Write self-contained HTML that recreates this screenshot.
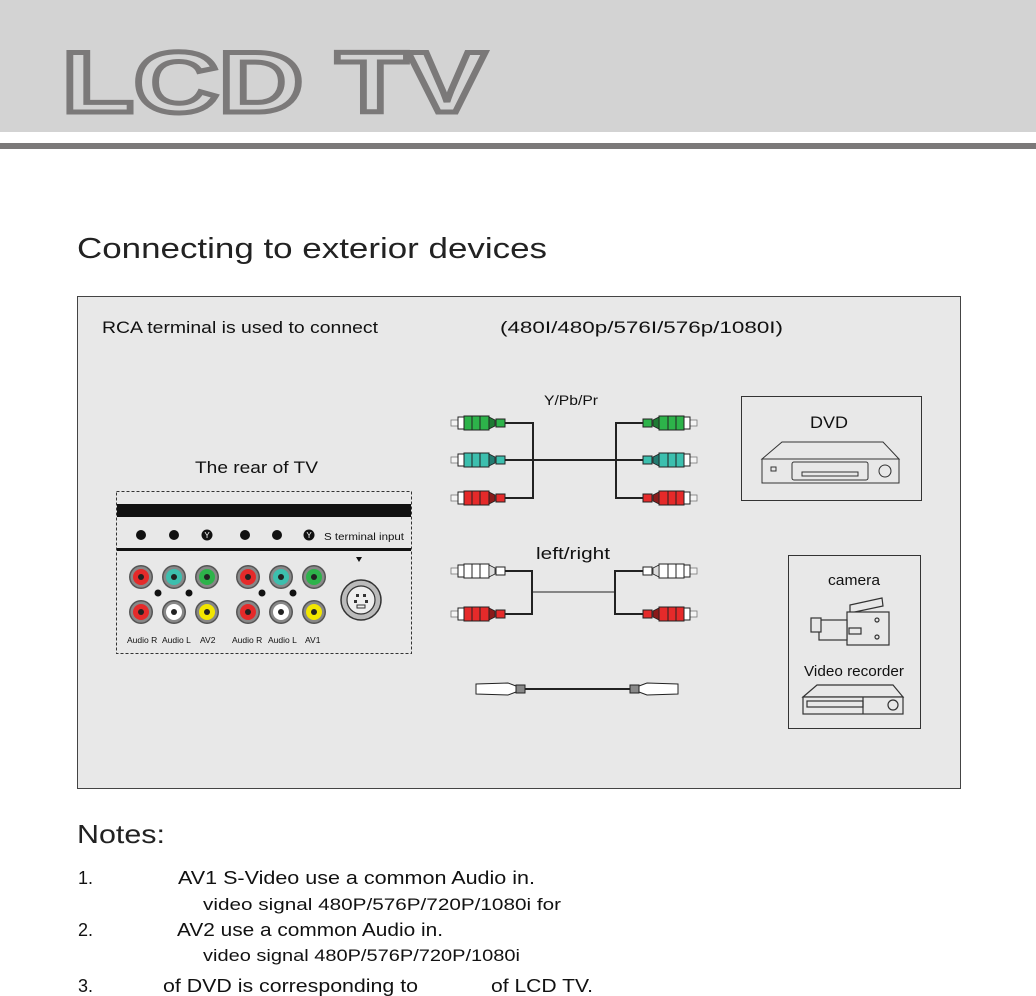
<!DOCTYPE html>
<html><head><meta charset="utf-8"><style>
html,body{margin:0;padding:0;background:#fff;}
svg{display:block;font-family:"Liberation Sans",sans-serif;}
</style></head><body>
<svg width="1036" height="996" viewBox="0 0 1036 996" xmlns="http://www.w3.org/2000/svg">
<defs>
<g id="plugG">
<rect x="0" y="-3" width="8" height="6" fill="#f4f4f4" stroke="#777" stroke-width="0.8"/>
<rect x="7" y="-6" width="6" height="12" fill="#fff" stroke="#222" stroke-width="1"/>
<rect x="13" y="-7" width="25" height="14" fill="#2db34a" stroke="#222" stroke-width="1"/>
<line x1="21" y1="-7" x2="21" y2="7" stroke="#222"/><line x1="29" y1="-7" x2="29" y2="7" stroke="#222"/>
<polygon points="38,-6 44,-3 44,3 38,6" fill="#1e7a33" stroke="#222" stroke-width="0.8"/>
<rect x="45" y="-4" width="9" height="8" fill="#2db34a" stroke="#222" stroke-width="1"/>
</g>
<g id="plugT">
<rect x="0" y="-3" width="8" height="6" fill="#f4f4f4" stroke="#777" stroke-width="0.8"/>
<rect x="7" y="-6" width="6" height="12" fill="#fff" stroke="#222" stroke-width="1"/>
<rect x="13" y="-7" width="25" height="14" fill="#3cbfae" stroke="#222" stroke-width="1"/>
<line x1="21" y1="-7" x2="21" y2="7" stroke="#222"/><line x1="29" y1="-7" x2="29" y2="7" stroke="#222"/>
<polygon points="38,-6 44,-3 44,3 38,6" fill="#227a70" stroke="#222" stroke-width="0.8"/>
<rect x="45" y="-4" width="9" height="8" fill="#3cbfae" stroke="#222" stroke-width="1"/>
</g>
<g id="plugR">
<rect x="0" y="-3" width="8" height="6" fill="#f4f4f4" stroke="#777" stroke-width="0.8"/>
<rect x="7" y="-6" width="6" height="12" fill="#fff" stroke="#222" stroke-width="1"/>
<rect x="13" y="-7" width="25" height="14" fill="#e52a2a" stroke="#222" stroke-width="1"/>
<line x1="21" y1="-7" x2="21" y2="7" stroke="#222"/><line x1="29" y1="-7" x2="29" y2="7" stroke="#222"/>
<polygon points="38,-6 44,-3 44,3 38,6" fill="#8a1a1a" stroke="#222" stroke-width="0.8"/>
<rect x="45" y="-4" width="9" height="8" fill="#e52a2a" stroke="#222" stroke-width="1"/>
</g>
<g id="plugW">
<rect x="0" y="-3" width="8" height="6" fill="#f4f4f4" stroke="#777" stroke-width="0.8"/>
<rect x="7" y="-6" width="6" height="12" fill="#fff" stroke="#222" stroke-width="1"/>
<rect x="13" y="-7" width="25" height="14" fill="#fff" stroke="#222" stroke-width="1"/>
<line x1="21" y1="-7" x2="21" y2="7" stroke="#222"/><line x1="29" y1="-7" x2="29" y2="7" stroke="#222"/>
<polygon points="38,-6 44,-3 44,3 38,6" fill="#ddd" stroke="#222" stroke-width="0.8"/>
<rect x="45" y="-4" width="9" height="8" fill="#fff" stroke="#222" stroke-width="1"/>
</g>
<g id="jack">
<circle r="12" fill="#555"/><circle r="10.5" fill="#888"/>
</g>
</defs>

<!-- header -->
<rect x="0" y="0" width="1036" height="132" fill="#d3d3d3"/>
<rect x="0" y="143" width="1036" height="6" fill="#7b7979"/>
<text x="62" y="112" font-size="86" font-weight="bold" textLength="424" lengthAdjust="spacingAndGlyphs" fill="#d3d3d3" stroke="#7b7979" stroke-width="5" stroke-linejoin="miter">LCD TV</text>

<text x="77" y="258" font-size="29" fill="#222" textLength="470" lengthAdjust="spacingAndGlyphs">Connecting to exterior devices</text>

<!-- panel -->
<rect x="77.5" y="296.5" width="883" height="492" fill="#e8e8e8" stroke="#444" stroke-width="1"/>
<text x="102" y="333" font-size="17" fill="#111" textLength="276" lengthAdjust="spacingAndGlyphs">RCA terminal is used to connect</text>
<text x="500" y="333" font-size="17" fill="#111" textLength="283" lengthAdjust="spacingAndGlyphs">(480I/480p/576I/576p/1080I)</text>
<text x="195" y="473" font-size="17" fill="#111" textLength="123" lengthAdjust="spacingAndGlyphs">The rear of TV</text>

<!-- TV rear -->
<rect x="116.5" y="491.5" width="295" height="162" fill="none" stroke="#333" stroke-dasharray="3,2"/>
<rect x="117" y="504" width="294" height="13" fill="#111"/>
<rect x="117" y="548" width="294" height="3" fill="#111"/>
<g font-size="5" fill="#fff" text-anchor="middle">
<circle cx="141" cy="535" r="5" fill="#111"/><circle cx="174" cy="535" r="5" fill="#111"/><circle cx="207" cy="535" r="5.5" fill="#111"/>
<circle cx="245" cy="535" r="5" fill="#111"/><circle cx="277" cy="535" r="5" fill="#111"/><circle cx="309" cy="535" r="5.5" fill="#111"/>
<text x="207" y="538" font-size="8">Y</text><text x="309" y="538" font-size="8">Y</text>
</g>
<text x="324" y="540" font-size="10" fill="#111" textLength="80" lengthAdjust="spacingAndGlyphs">S  terminal input</text>
<polygon points="356,557 362,557 359,562" fill="#111"/>
<g>
<use href="#jack" x="141" y="577"/><circle cx="141" cy="577" r="8" fill="#e52a2a"/><circle cx="141" cy="577" r="3" fill="#222"/>
<use href="#jack" x="174" y="577"/><circle cx="174" cy="577" r="8" fill="#3cbfae"/><circle cx="174" cy="577" r="3" fill="#222"/>
<use href="#jack" x="207" y="577"/><circle cx="207" cy="577" r="8" fill="#2db34a"/><circle cx="207" cy="577" r="3" fill="#222"/>
<use href="#jack" x="248" y="577"/><circle cx="248" cy="577" r="8" fill="#e52a2a"/><circle cx="248" cy="577" r="3" fill="#222"/>
<use href="#jack" x="281" y="577"/><circle cx="281" cy="577" r="8" fill="#3cbfae"/><circle cx="281" cy="577" r="3" fill="#222"/>
<use href="#jack" x="314" y="577"/><circle cx="314" cy="577" r="8" fill="#2db34a"/><circle cx="314" cy="577" r="3" fill="#222"/>
<use href="#jack" x="141" y="612"/><circle cx="141" cy="612" r="8" fill="#e52a2a"/><circle cx="141" cy="612" r="3" fill="#222"/>
<use href="#jack" x="174" y="612"/><circle cx="174" cy="612" r="8" fill="#fff"/><circle cx="174" cy="612" r="3" fill="#222"/>
<use href="#jack" x="207" y="612"/><circle cx="207" cy="612" r="8" fill="#f2e600"/><circle cx="207" cy="612" r="3" fill="#222"/>
<use href="#jack" x="248" y="612"/><circle cx="248" cy="612" r="8" fill="#e52a2a"/><circle cx="248" cy="612" r="3" fill="#222"/>
<use href="#jack" x="281" y="612"/><circle cx="281" cy="612" r="8" fill="#fff"/><circle cx="281" cy="612" r="3" fill="#222"/>
<use href="#jack" x="314" y="612"/><circle cx="314" cy="612" r="8" fill="#f2e600"/><circle cx="314" cy="612" r="3" fill="#222"/>
<circle cx="158" cy="593" r="3.5" fill="#111"/><circle cx="189" cy="593" r="3.5" fill="#111"/>
<circle cx="262" cy="593" r="3.5" fill="#111"/><circle cx="293" cy="593" r="3.5" fill="#111"/>
</g>
<circle cx="361" cy="600" r="20" fill="#bbb" stroke="#333" stroke-width="1.5"/>
<circle cx="361" cy="600" r="14" fill="#eee" stroke="#333" stroke-width="1.2"/>
<rect x="356" y="594" width="3" height="3" fill="#333"/><rect x="363" y="594" width="3" height="3" fill="#333"/>
<rect x="354" y="600" width="3" height="3" fill="#333"/><rect x="365" y="600" width="3" height="3" fill="#333"/>
<rect x="357" y="605" width="8" height="3" fill="none" stroke="#333"/>
<g font-size="8.5" fill="#111">
<text x="127" y="643">Audio R</text><text x="162" y="643">Audio L</text><text x="200" y="643">AV2</text>
<text x="232" y="643">Audio R</text><text x="268" y="643">Audio L</text><text x="305" y="643">AV1</text>
</g>

<!-- Y/Pb/Pr cable -->
<text x="544" y="405" font-size="14" fill="#111" textLength="54" lengthAdjust="spacingAndGlyphs">Y/Pb/Pr</text>
<use href="#plugG" x="451" y="423"/><use href="#plugT" x="451" y="460"/><use href="#plugR" x="451" y="498"/>
<g transform="translate(697,0) scale(-1,1)">
<use href="#plugG" x="0" y="423"/><use href="#plugT" x="0" y="460"/><use href="#plugR" x="0" y="498"/>
</g>
<g stroke="#222" fill="none" stroke-width="2">
<polyline points="505,423 533,423 533,498 505,498"/>
<line x1="505" y1="460" x2="643" y2="460"/>
<polyline points="643,423 616,423 616,498 643,498"/>
</g>

<!-- left/right -->
<text x="536" y="559" font-size="17" fill="#111" textLength="74" lengthAdjust="spacingAndGlyphs">left/right</text>
<use href="#plugW" x="451" y="571"/><use href="#plugR" x="451" y="614"/>
<g transform="translate(697,0) scale(-1,1)">
<use href="#plugW" x="0" y="571"/><use href="#plugR" x="0" y="614"/>
</g>
<g stroke="#222" fill="none">
<polyline points="505,571 532,571 532,614 505,614" stroke-width="2"/>
<line x1="532" y1="592" x2="615" y2="592" stroke-width="1"/>
<polyline points="643,571 615,571 615,614 643,614" stroke-width="2"/>
</g>

<!-- S-video cable -->
<g stroke="#222" fill="#fff" stroke-width="1">
<path d="M476,684 L508,683 L516,686 L516,692 L508,695 L476,694 Z"/>
<rect x="516" y="685" width="9" height="8" fill="#888"/>
<line x1="525" y1="689" x2="630" y2="689" stroke-width="2"/>
<rect x="630" y="685" width="9" height="8" fill="#888"/>
<path d="M678,684 L647,683 L639,686 L639,692 L647,695 L678,694 Z"/>
</g>

<!-- DVD -->
<rect x="741.5" y="396.5" width="180" height="104" fill="#e8e8e8" stroke="#333"/>
<text x="810" y="428" font-size="17" fill="#111" textLength="38" lengthAdjust="spacingAndGlyphs">DVD</text>
<g stroke="#333" fill="#e8e8e8" stroke-width="1">
<polygon points="762,459 782,442 883,442 899,459"/>
<rect x="762" y="459" width="137" height="24"/>
<rect x="792" y="462" width="76" height="18" rx="2"/>
<rect x="802" y="472" width="56" height="4"/>
<rect x="771" y="467" width="5" height="4"/>
<circle cx="885" cy="471" r="6"/>
</g>

<!-- camera box -->
<rect x="788.5" y="555.5" width="132" height="173" fill="#e8e8e8" stroke="#333"/>
<text x="828" y="585" font-size="15" fill="#111" textLength="52" lengthAdjust="spacingAndGlyphs">camera</text>
<g stroke="#333" fill="#e8e8e8" stroke-width="1.2">
<polygon points="850,605 882,598 883,606 850,613"/>
<rect x="847" y="612" width="42" height="33"/>
<rect x="819" y="620" width="28" height="20"/>
<rect x="811" y="618" width="10" height="14"/>
<rect x="849" y="628" width="12" height="6"/>
<circle cx="877" cy="620" r="2"/><circle cx="877" cy="637" r="2"/>
</g>
<text x="804" y="676" font-size="15" fill="#111" textLength="100" lengthAdjust="spacingAndGlyphs">Video recorder</text>
<g stroke="#333" fill="#e8e8e8" stroke-width="1.2">
<polygon points="803,697 817,685 893,685 903,697"/>
<rect x="803" y="697" width="100" height="17"/>
<rect x="807" y="701" width="56" height="6"/>
<line x1="863" y1="697" x2="863" y2="714"/>
<circle cx="893" cy="705" r="5"/>
</g>

<!-- Notes -->
<text x="77" y="843" font-size="26" fill="#222" textLength="88" lengthAdjust="spacingAndGlyphs">Notes:</text>
<g font-size="18" fill="#111">
<text x="78" y="884">1.</text><text x="178" y="884" textLength="357" lengthAdjust="spacingAndGlyphs">AV1 S-Video use a common Audio in.</text>
<text x="203" y="910" font-size="17" textLength="358" lengthAdjust="spacingAndGlyphs">video signal 480P/576P/720P/1080i for</text>
<text x="78" y="936">2.</text><text x="177" y="936" textLength="266" lengthAdjust="spacingAndGlyphs">AV2 use a common Audio in.</text>
<text x="203" y="961" font-size="17" textLength="317" lengthAdjust="spacingAndGlyphs">video signal 480P/576P/720P/1080i</text>
<text x="78" y="992">3.</text><text x="163" y="992" textLength="255" lengthAdjust="spacingAndGlyphs">of DVD is corresponding to</text><text x="491" y="992" textLength="102" lengthAdjust="spacingAndGlyphs">of LCD TV.</text>
</g>
</svg>
</body></html>
